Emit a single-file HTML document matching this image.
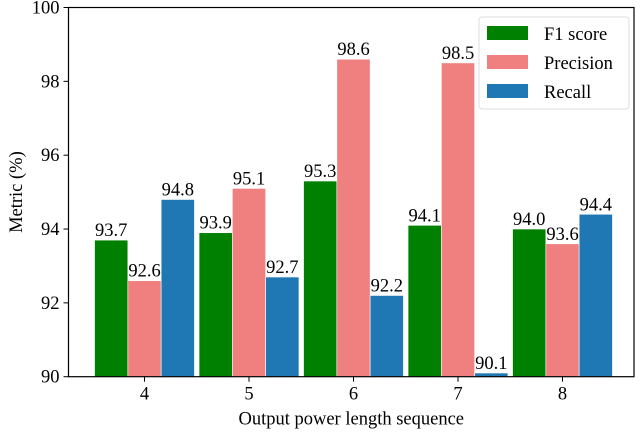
<!DOCTYPE html>
<html><head><meta charset="utf-8"><style>
body{margin:0;background:#fff;}
svg, svg text{font-family:"Liberation Serif","Times New Roman","DejaVu Serif",serif !important;}
svg text{fill:#000;}
</style></head><body>
<svg id="chart" width="640" height="433" xmlns="http://www.w3.org/2000/svg" font-family="Liberation Serif, serif">
<g id="bars"></g>
<g id="axes"></g>
<g id="legend">
<rect x="479" y="17" width="150" height="92" rx="3" fill="#fff" fill-opacity="0.85" stroke="#ddd"/>
<rect x="487" y="26" width="41" height="14" fill="#008000"/>
<text x="544" y="40" font-size="18.5">F1 score</text>
<rect x="487" y="55" width="41" height="14" fill="#f08080"/>
<text x="544" y="69" font-size="18.5">Precision</text>
<rect x="487" y="84" width="41" height="14" fill="#1f77b4"/>
<text x="544" y="98" font-size="18.5">Recall</text>
</g>
</svg>
<script>
const categories = ["4","5","6","7","8"];
const f1 = [93.7,93.9,95.3,94.1,94.0];
const precision = [92.6,95.1,98.6,98.5,93.6];
const recall = [94.8,92.7,92.2,90.1,94.4];
const yTicks = [90,92,94,96,98,100];
const NS="http://www.w3.org/2000/svg";
const L=68.5,R=634,T=7.5,B=376.7,yMin=90,yMax=100;
const x0=144.5,dx=104.5,bw=33.3;
const xS=i=>x0+i*dx;
const yS=v=>B-(v-yMin)/(yMax-yMin)*(B-T);
function mk(tag,attrs,parent){const e=document.createElementNS(NS,tag);for(const k in attrs)e.setAttribute(k,attrs[k]);parent.appendChild(e);return e;}
const bars=document.getElementById('bars'),axes=document.getElementById('axes');
const series=[[f1,'#008000','f1'],[precision,'#f08080','precision'],[recall,'#1f77b4','recall']];
series.forEach(([vals,col,nm],s)=>{
  vals.forEach((v,i)=>{
    const cx=xS(i)+(s-1)*bw;
    const r=mk('rect',{x:cx-bw/2,y:yS(v),width:bw,height:B-yS(v),fill:col,stroke:'#fff','stroke-width':0.6},bars);
    
    
    const t=mk('text',{x:cx,y:yS(v)-4,'text-anchor':'middle','font-size':18.5},bars);
    t.textContent=v.toFixed(1);
    
    
  });
});
mk('rect',{x:L,y:T,width:R-L,height:B-T,fill:'none',stroke:'#000','stroke-width':1.2},axes);
yTicks.forEach(v=>{
  mk('line',{x1:L-5,x2:L,y1:yS(v),y2:yS(v),stroke:'#000'},axes);
  const t=mk('text',{x:L-9,y:yS(v)+6,'text-anchor':'end','font-size':18.5},axes);
  t.textContent=v;
  
  
});
categories.forEach((c,i)=>{
  mk('line',{x1:xS(i),x2:xS(i),y1:B,y2:B+5,stroke:'#000'},axes);
  const t=mk('text',{x:xS(i),y:B+23,'text-anchor':'middle','font-size':18.5},axes);
  t.textContent=c;
  
  
});
const xt=mk('text',{x:(L+R)/2,y:B+48,'text-anchor':'middle','font-size':18.5},axes);
xt.textContent='Output power length sequence';


const yt=mk('text',{x:0,y:0,'text-anchor':'middle','font-size':18.5,transform:'translate(22,'+((T+B)/2)+') rotate(-90)'},axes);
yt.textContent='Metric (%)';


</script>
</body></html>
